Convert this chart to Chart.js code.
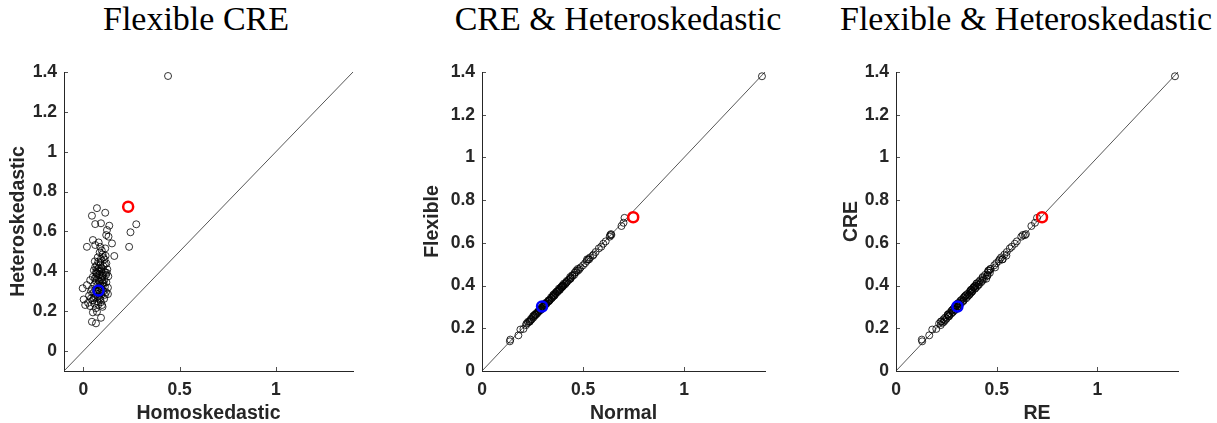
<!DOCTYPE html>
<html lang="en">
<head>
    <meta charset="UTF-8">
    <title>CRE comparisons</title>
    <script src="https://cdn.jsdelivr.net/npm/chart.js"></script>
    <style>
        body {
            margin: 0;
            width: 1217px;
            height: 423px;
            overflow: hidden;
            background: #fff;
            position: relative;
        }
        canvas {
            position: absolute;
            top: 0;
        }
        .ptitle {
            position: absolute;
            top: 2px;
            width: 420px;
            text-align: center;
            font-family: "Liberation Serif", "DejaVu Serif", serif;
            font-size: 34px;
            line-height: 34px;
            color: #000;
            white-space: nowrap;
        }
    </style>
</head>
<body>
    <div class="ptitle" style="left:-14px">Flexible CRE</div>
    <div class="ptitle" style="left:408px">CRE &amp; Heteroskedastic</div>
    <div class="ptitle" style="left:816px">Flexible &amp; Heteroskedastic</div>
    <canvas id="c1" width="400" height="423" style="left:0"></canvas>
    <canvas id="c2" width="410" height="423" style="left:400px"></canvas>
    <canvas id="c3" width="407" height="423" style="left:810px"></canvas>

    <script>
        // heteroskedastic flexible CRE estimates (shared y values)
        const hetero = [1.38,0.717,0.679,0.694,0.637,0.641,0.629,0.636,0.596,0.523,0.607,0.582,0.574,0.540,0.557,0.523,0.532,0.523,0.515,0.477,
            0.194,0.197,0.147,0.139,0.167,0.264,0.259,0.231,0.315,0.286,0.231,0.331,0.356,0.495,0.485,0.470,0.460,0.450,0.445,0.440,
            0.430,0.425,0.415,0.410,0.405,0.400,0.395,0.390,0.385,0.380,0.375,0.372,0.368,0.362,0.358,0.352,0.348,0.345,0.340,0.335,
            0.330,0.326,0.322,0.318,0.312,0.308,0.305,0.300,0.296,0.292,0.288,0.284,0.278,0.272,0.268,0.262,0.255,0.250,0.245,0.242,
            0.238,0.233,0.226,0.222,0.215,0.350,0.355,0.410,0.432,0.470,0.505,0.545,0.478,0.395,0.382,0.312,0.300,0.290,
            0.342,0.365,0.378,0.388,0.398,0.402,0.418,0.422,0.436,0.448,0.462,0.328,0.318,0.302,0.282,0.275,0.265,0.258,0.392,0.372];

        // panel 1 x: homoskedastic
        const homo = [0.440,0.071,0.045,0.114,0.062,0.092,0.135,0.275,0.245,0.238,0.123,0.119,0.131,0.149,0.050,0.019,0.062,0.088,0.114,0.161,
            0.050,0.071,0.045,0.066,0.092,0.040,0.002,0.010,-0.003,0.128,0.097,0.019,0.036,0.085,0.100,0.075,0.110,0.060,0.090,0.120,
            0.070,0.105,0.080,0.125,0.055,0.095,0.115,0.068,0.085,0.102,0.130,0.050,0.077,0.092,0.110,0.065,0.083,0.120,0.100,0.058,
            0.073,0.090,0.112,0.128,0.045,0.062,0.080,0.105,0.118,0.052,0.070,0.095,0.030,0.062,0.085,0.108,0.048,0.072,0.092,0.025,
            0.058,0.078,0.035,0.100,0.065,0.082,0.098,0.072,0.088,0.104,0.096,0.080,0.116,0.066,0.118,0.094,0.040,0.086,
            0.105,0.060,0.098,0.072,0.108,0.082,0.095,0.062,0.112,0.078,0.092,0.102,0.085,0.070,0.112,0.078,0.055,0.088,0.122,0.068];

        // panel 2 x: normal CRE
        const normal = [1.385,0.705,0.690,0.700,0.640,0.638,0.632,0.634,0.600,0.530,0.612,0.590,0.578,0.548,0.562,0.520,0.535,0.526,0.518,0.482,
            0.190,0.205,0.140,0.138,0.180,0.262,0.255,0.228,0.318,0.290,0.236,0.335,0.352,0.500,0.488,0.475,0.458,0.456,0.448,0.436,
            0.433,0.428,0.418,0.406,0.410,0.402,0.398,0.392,0.380,0.384,0.377,0.370,0.372,0.364,0.355,0.356,0.350,0.342,0.344,0.336,
            0.328,0.330,0.324,0.315,0.316,0.306,0.308,0.303,0.294,0.296,0.286,0.288,0.280,0.270,0.272,0.265,0.252,0.254,0.243,0.246,
            0.240,0.236,0.228,0.220,0.218,0.353,0.360,0.414,0.438,0.466,0.510,0.552,0.474,0.393,0.386,0.310,0.298,0.292,
            0.345,0.362,0.381,0.386,0.401,0.399,0.421,0.420,0.439,0.446,0.465,0.331,0.316,0.305,0.280,0.277,0.263,0.260,0.395,0.370];

        // panel 3 x: RE
        const re = [1.385,0.700,0.672,0.690,0.630,0.645,0.622,0.640,0.590,0.515,0.600,0.575,0.565,0.548,0.550,0.528,0.522,0.530,0.510,0.470,
            0.180,0.200,0.128,0.130,0.165,0.258,0.262,0.222,0.305,0.295,0.238,0.322,0.348,0.488,0.492,0.462,0.466,0.442,0.452,0.430,
            0.436,0.418,0.422,0.400,0.412,0.394,0.402,0.384,0.392,0.372,0.380,0.366,0.374,0.356,0.365,0.345,0.355,0.338,0.348,0.328,
            0.336,0.318,0.328,0.310,0.318,0.300,0.312,0.294,0.302,0.286,0.294,0.278,0.284,0.266,0.274,0.256,0.262,0.244,0.251,0.236,
            0.244,0.226,0.232,0.214,0.222,0.342,0.362,0.402,0.448,0.458,0.498,0.538,0.468,0.388,0.376,0.305,0.292,0.284,
            0.335,0.370,0.372,0.394,0.392,0.408,0.412,0.428,0.430,0.455,0.455,0.334,0.312,0.308,0.276,0.281,0.259,0.264,0.386,0.378];

        // highlighted estimates per panel: [x, y]
        const redPts = [[0.233, 0.724], [0.748, 0.720], [0.725, 0.720]];
        const bluePts = [[0.079, 0.304], [0.297, 0.302], [0.305, 0.302]];

        const xTicks = [0, 0.5, 1];
        const yTicks = [0, 0.2, 0.4, 0.6, 0.8, 1, 1.2, 1.4];

        const panels = [
            { id: 'c1', xs: homo, xLabel: 'Homoskedastic', yLabel: 'Heteroskedastic', xMin: -0.1, yMin: -0.1,
              yAxisW: 64, padRight: 47, yTitlePad: 9 },
            { id: 'c2', xs: normal, xLabel: 'Normal', yLabel: 'Flexible', xMin: 0, yMin: 0,
              yAxisW: 82, padRight: 45, yTitlePad: 23 },
            { id: 'c3', xs: re, xLabel: 'RE', yLabel: 'CRE', xMin: 0, yMin: 0,
              yAxisW: 86, padRight: 39, yTitlePad: 32 }
        ];

        const axisColor = '#262626';
        const tickFont = { family: '"Liberation Sans", Arial, sans-serif', size: 17.5, weight: 'bold' };
        const titleFont = { family: '"Liberation Sans", Arial, sans-serif', size: 19.5, weight: 'bold', lineHeight: 1 };

        // MATLAB style ticks pointing into the axes
        const inwardTicks = {
            id: 'inwardTicks',
            afterDraw(chart) {
                const ctx = chart.ctx;
                const area = chart.chartArea;
                const len = 4;
                ctx.save();
                ctx.strokeStyle = axisColor;
                ctx.lineWidth = 0.8;
                ctx.beginPath();
                chart.scales.x.ticks.forEach(t => {
                    const px = Math.round(chart.scales.x.getPixelForValue(t.value)) + 0.5;
                    ctx.moveTo(px, area.bottom);
                    ctx.lineTo(px, area.bottom - len);
                });
                chart.scales.y.ticks.forEach(t => {
                    const py = Math.round(chart.scales.y.getPixelForValue(t.value)) + 0.5;
                    ctx.moveTo(area.left, py);
                    ctx.lineTo(area.left + len, py);
                });
                ctx.stroke();
                ctx.restore();
            }
        };

        function makePanel(p, i) {
            const cloud = p.xs.map((x, k) => ({ x: x, y: hetero[k] }));
            return new Chart(document.getElementById(p.id), {
                type: 'scatter',
                data: {
                    datasets: [
                        {
                            data: [{ x: bluePts[i][0], y: bluePts[i][1] }],
                            borderColor: '#0000ff', backgroundColor: 'rgba(0,0,0,0)',
                            pointRadius: 5, borderWidth: 2.5
                        },
                        {
                            data: [{ x: redPts[i][0], y: redPts[i][1] }],
                            borderColor: '#ff0000', backgroundColor: 'rgba(0,0,0,0)',
                            pointRadius: 5, borderWidth: 2.5
                        },
                        {
                            data: cloud,
                            borderColor: '#000', backgroundColor: 'rgba(0,0,0,0)',
                            pointRadius: 3.5, borderWidth: 0.8
                        },
                        {
                            type: 'line',
                            data: [{ x: p.xMin, y: p.yMin }, { x: 1.4, y: 1.4 }],
                            borderColor: '#444', borderWidth: 0.9,
                            pointRadius: 0, fill: false
                        }
                    ]
                },
                options: {
                    responsive: false,
                    animation: false,
                    clip: false,
                    layout: { padding: { top: 72, right: p.padRight, bottom: 0, left: 0 } },
                    plugins: { legend: { display: false }, tooltip: { enabled: false }, title: { display: false } },
                    scales: {
                        x: {
                            type: 'linear', min: p.xMin, max: 1.4,
                            grid: { display: false, drawTicks: false },
                            border: { display: true, color: axisColor, width: 1 },
                            afterBuildTicks: s => { s.ticks = xTicks.map(v => ({ value: v })); },
                            afterFit: s => { s.height = 52; },
                            ticks: { color: axisColor, font: tickFont, padding: 9, maxRotation: 0,
                                     callback: v => String(v) },
                            title: { display: true, text: p.xLabel, color: axisColor, font: titleFont,
                                     padding: { top: 0, bottom: 0 } }
                        },
                        y: {
                            type: 'linear', min: p.yMin, max: 1.4,
                            grid: { display: false, drawTicks: false },
                            border: { display: true, color: axisColor, width: 1 },
                            afterBuildTicks: s => { s.ticks = yTicks.map(v => ({ value: v })); },
                            afterFit: s => { s.width = p.yAxisW; },
                            ticks: { color: axisColor, font: tickFont, padding: 7,
                                     callback: v => String(v) },
                            title: { display: true, text: p.yLabel, color: axisColor, font: titleFont,
                                     padding: { top: p.yTitlePad, bottom: 0 } }
                        }
                    }
                },
                plugins: [inwardTicks]
            });
        }

        panels.forEach((p, i) => makePanel(p, i));
    </script>
</body>
</html>
